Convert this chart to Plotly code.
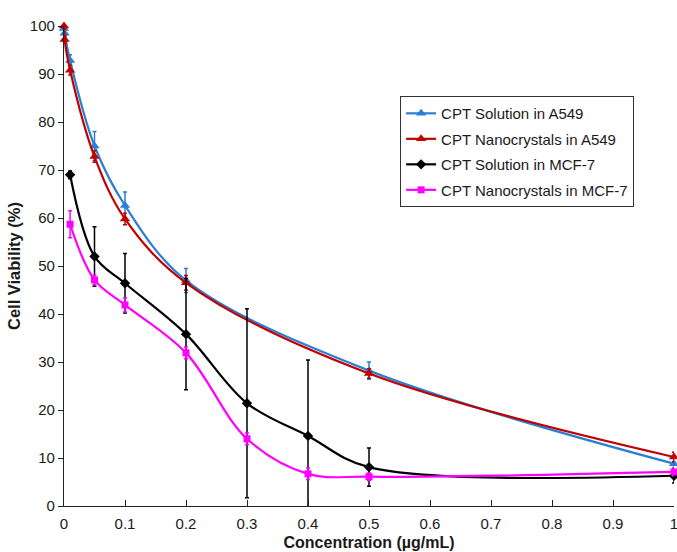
import plotly.graph_objects as go

# A549 series
x_a549 = [0, 0.001, 0.01, 0.05, 0.1, 0.2, 0.5, 1]
sol_a549 = [99.5, 98.5, 92.8, 75.0, 62.6, 47.0, 28.2, 8.8]
sol_a549_err = [0.8, 0.8, 1.2, 3.0, 2.8, 2.5, 1.8, 1.5]
nano_a549 = [100, 97.2, 90.8, 72.8, 59.8, 46.5, 27.6, 10.2]
nano_a549_err = [0.5, 0.8, 1.0, 1.2, 1.2, 1.5, 1.0, 1.0]

# MCF-7 series
x_mcf7 = [0.01, 0.05, 0.1, 0.2, 0.3, 0.4, 0.5, 1]
sol_mcf7 = [69.0, 52.0, 46.4, 35.8, 21.4, 14.6, 8.1, 6.3]
sol_mcf7_err = [0.8, 6.2, 6.2, 11.6, 19.7, 15.8, 4.0, 1.5]
nano_mcf7 = [58.7, 47.1, 41.9, 31.9, 14.0, 6.7, 6.1, 7.1]
nano_mcf7_err = [2.8, 1.0, 1.5, 1.2, 1.2, 1.2, 0.8, 0.8]

x_ticks = [0, 0.1, 0.2, 0.3, 0.4, 0.5, 0.6, 0.7, 0.8, 0.9, 1]
x_tick_labels = ["0", "0.1", "0.2", "0.3", "0.4", "0.5", "0.6", "0.7", "0.8", "0.9", "1"]
y_ticks = [0, 10, 20, 30, 40, 50, 60, 70, 80, 90, 100]

series = [
    ("CPT Solution in A549", x_a549, sol_a549, sol_a549_err, "#2a7fd4", "triangle-up", 9),
    ("CPT Nanocrystals in A549", x_a549, nano_a549, nano_a549_err, "#c00000", "triangle-up", 9),
    ("CPT Solution in MCF-7", x_mcf7, sol_mcf7, sol_mcf7_err, "#000000", "diamond", 8),
    ("CPT Nanocrystals in MCF-7", x_mcf7, nano_mcf7, nano_mcf7_err, "#ff00ff", "square", 7),
]

fig = go.Figure()
for i, (name, xs, ys, es, color, sym, size) in enumerate(series):
    fig.add_trace(go.Scatter(
        x=xs, y=ys, name=name, mode="lines+markers",
        line=dict(color=color, width=2.2, shape="spline", smoothing=1.0),
        marker=dict(symbol=sym, size=size, color=color),
        error_y=dict(type="data", array=es, visible=True, color=color, thickness=1.5, width=2),
        cliponaxis=False,
        legendgroup=f"g{i}",
    ))

font_family = "Arial, Liberation Sans, sans-serif"
fig.update_layout(
    width=677, height=552,
    margin=dict(l=64, r=3, t=26, b=46, autoexpand=False),
    plot_bgcolor="white", paper_bgcolor="white",
    font=dict(family=font_family, size=15, color="#1a1a1a"),
    showlegend=True,
    legend=dict(
        x=0.551, y=0.854, xanchor="left", yanchor="top",
        bordercolor="#333333", borderwidth=1, bgcolor="white",
        font=dict(size=15, color="#1a1a1a"),
        traceorder="grouped", tracegroupgap=3,
        itemwidth=30,
    ),
    xaxis=dict(
        range=[0, 1], tickvals=x_ticks, ticktext=x_tick_labels,
        showgrid=False, zeroline=False, showline=True, linecolor="#222222", linewidth=1.3,
        ticks="inside", ticklen=6, tickcolor="#222222", automargin=False,
        ticklabelstandoff=4, ticklabeloverflow="allow",
        title=dict(text="<b>Concentration (µg/mL)</b>", font=dict(size=16), standoff=5),
    ),
    yaxis=dict(
        range=[0, 100], tickvals=y_ticks,
        showgrid=False, zeroline=False, showline=True, linecolor="#222222", linewidth=1.3,
        ticks="outside", ticklen=5, tickcolor="#222222", automargin=False,
        title=dict(text="<b>Cell Viability (%)</b>", font=dict(size=16.5), standoff=5),
    ),
)

fig.write_html("out.html", config={"displayModeBar": False},
               post_script="document.body.style.margin='0px';")
